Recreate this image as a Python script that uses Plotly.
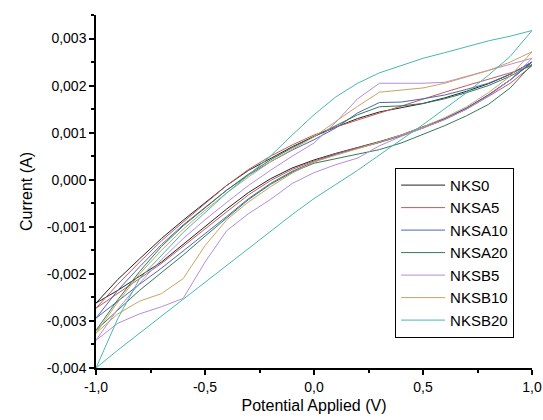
import plotly.graph_objects as go

# Potential grid (V): forward sweep -1 -> 1, then reverse 1 -> -1
POT_UP = [-1.0, -0.9, -0.8, -0.7, -0.6, -0.5, -0.4, -0.3, -0.2, -0.1, 0.0,
          0.1, 0.2, 0.3, 0.4, 0.5, 0.6, 0.7, 0.8, 0.9, 1.0]
POT_DOWN = [0.9, 0.8, 0.7, 0.6, 0.5, 0.4, 0.3, 0.2, 0.1, 0.0,
            -0.1, -0.2, -0.3, -0.4, -0.5, -0.6, -0.7, -0.8, -0.9, -1.0]

SERIES_NAMES = ["NKS0", "NKSA5", "NKSA10", "NKSA20", "NKSB5", "NKSB10", "NKSB20"]

# Currents in mA (upper branch along POT_UP, lower branch along POT_DOWN)
NKS0_UP = [-2.62, -2.12, -1.68, -1.25, -0.86, -0.48, -0.12, 0.20, 0.45, 0.70, 0.92,
           1.12, 1.30, 1.44, 1.53, 1.62, 1.74, 1.88, 2.04, 2.24, 2.50]
NKS0_DN = [2.12, 1.80, 1.52, 1.30, 1.12, 0.95, 0.81, 0.69, 0.56, 0.42,
           0.25, 0.02, -0.27, -0.62, -1.00, -1.38, -1.75, -2.05, -2.35, -2.62]

NKSA5_UP = [-2.73, -2.22, -1.75, -1.30, -0.90, -0.50, -0.12, 0.22, 0.50, 0.74, 0.95,
            1.12, 1.27, 1.41, 1.56, 1.71, 1.86, 2.00, 2.13, 2.27, 2.42]
NKSA5_DN = [2.05, 1.77, 1.50, 1.28, 1.10, 0.94, 0.80, 0.68, 0.55, 0.40,
            0.22, -0.02, -0.32, -0.68, -1.05, -1.42, -1.78, -2.10, -2.42, -2.73]

NKSA10_UP = [-2.94, -2.35, -1.85, -1.38, -0.96, -0.58, -0.22, 0.10, 0.38, 0.63, 0.85,
             1.10, 1.42, 1.64, 1.65, 1.72, 1.80, 1.92, 2.05, 2.24, 2.50]
NKSA10_DN = [2.12, 1.80, 1.52, 1.29, 1.10, 0.93, 0.79, 0.67, 0.54, 0.38,
             0.18, -0.08, -0.40, -0.78, -1.15, -1.52, -1.88, -2.22, -2.58, -2.94]

NKSA20_UP = [-3.20, -2.55, -1.95, -1.42, -0.98, -0.60, -0.22, 0.12, 0.42, 0.68, 0.92,
             1.15, 1.38, 1.55, 1.57, 1.62, 1.72, 1.85, 2.00, 2.20, 2.45]
NKSA20_DN = [1.95, 1.60, 1.36, 1.15, 0.96, 0.78, 0.64, 0.54, 0.45, 0.35,
             0.16, -0.10, -0.42, -0.80, -1.20, -1.60, -1.98, -2.35, -2.77, -3.20]

NKSB5_UP = [-3.41, -2.75, -2.20, -1.70, -1.25, -0.85, -0.48, -0.12, 0.20, 0.50, 0.78,
            1.22, 1.72, 2.05, 2.05, 2.05, 2.07, 2.20, 2.32, 2.45, 2.58]
NKSB5_DN = [2.12, 1.78, 1.50, 1.28, 1.10, 0.92, 0.72, 0.46, 0.32, 0.15,
            -0.08, -0.42, -0.72, -1.08, -1.75, -2.52, -2.70, -2.85, -3.05, -3.41]

NKSB10_UP = [-3.26, -2.60, -2.00, -1.50, -1.05, -0.65, -0.28, 0.06, 0.38, 0.65, 0.91,
             1.24, 1.56, 1.86, 1.91, 1.95, 2.05, 2.18, 2.32, 2.50, 2.72]
NKSB10_DN = [2.20, 1.85, 1.55, 1.32, 1.12, 0.95, 0.80, 0.66, 0.52, 0.38,
             0.14, -0.15, -0.47, -0.85, -1.40, -2.10, -2.42, -2.58, -2.85, -3.26]

NKSB20_UP = [-4.00, -2.95, -2.10, -1.60, -1.12, -0.70, -0.28, 0.10, 0.50, 0.95, 1.38,
             1.76, 2.05, 2.27, 2.43, 2.58, 2.70, 2.82, 2.95, 3.05, 3.17]
NKSB20_DN = [2.62, 2.22, 1.85, 1.50, 1.17, 0.85, 0.52, 0.20, -0.10, -0.40,
             -0.74, -1.10, -1.46, -1.82, -2.18, -2.55, -2.90, -3.25, -3.62, -4.00]

UP = [NKS0_UP, NKSA5_UP, NKSA10_UP, NKSA20_UP, NKSB5_UP, NKSB10_UP, NKSB20_UP]
DN = [NKS0_DN, NKSA5_DN, NKSA10_DN, NKSA20_DN, NKSB5_DN, NKSB10_DN, NKSB20_DN]

COLORS = ["#222222", "#c85a5a", "#4a68b4", "#347a56", "#b48ed8", "#c9a464", "#48b8b0"]

X_TICKS = [-1.0, -0.5, 0.0, 0.5, 1.0]
X_TICK_TEXT = ["-1,0", "-0,5", "0,0", "0,5", "1,0"]
Y_TICKS = [-0.004, -0.003, -0.002, -0.001, 0.0, 0.001, 0.002, 0.003]
Y_TICK_TEXT = ["-0,004", "-0,003", "-0,002", "-0,001", "0,000", "0,001", "0,002", "0,003"]

fig = go.Figure()
for name, up, dn, col in zip(SERIES_NAMES, UP, DN, COLORS):
    x = POT_UP + POT_DOWN
    y = [v / 1000.0 for v in up + dn]
    fig.add_trace(go.Scatter(x=x, y=y, mode="lines", name=name,
                             line=dict(color=col, width=1)))

FONT = "Liberation Sans, Arial, sans-serif"
fig.update_layout(
    width=543, height=420,
    margin=dict(l=96, r=11, t=15, b=52),
    paper_bgcolor="white", plot_bgcolor="white",
    font=dict(family=FONT, color="black", size=14),
    showlegend=True,
    legend=dict(x=0.686, y=0.567, xanchor="left", yanchor="top",
                bordercolor="black", borderwidth=1, bgcolor="white",
                font=dict(size=15, family=FONT), itemwidth=44,
                tracegroupgap=0),
    xaxis=dict(range=[-1.0, 1.0], tickvals=X_TICKS, ticktext=X_TICK_TEXT,
               automargin=False,
               showline=True, linecolor="black", linewidth=1.5,
               ticks="outside", ticklen=5, tickcolor="black", tickwidth=1.5,
               showgrid=False, zeroline=False,
               minor=dict(ticks="outside", ticklen=3, tickcolor="black",
                          dtick=0.25, tick0=-1.0),
               title=dict(text="Potential Applied (V)", font=dict(size=16), standoff=6)),
    yaxis=dict(range=[-0.004, 0.0035], tickvals=Y_TICKS, ticktext=Y_TICK_TEXT,
               automargin=False,
               showline=True, linecolor="black", linewidth=1.5,
               ticks="outside", ticklen=5, tickcolor="black", tickwidth=1.5,
               showgrid=False, zeroline=False,
               minor=dict(ticks="outside", ticklen=3, tickcolor="black",
                          dtick=0.0005, tick0=0.0),
               title=dict(text="Current (A)", font=dict(size=16), standoff=10)),
)

fig.write_html("out.html", config={"displayModeBar": False},
               post_script="document.body.style.margin='0px';document.body.style.overflow='hidden';")
